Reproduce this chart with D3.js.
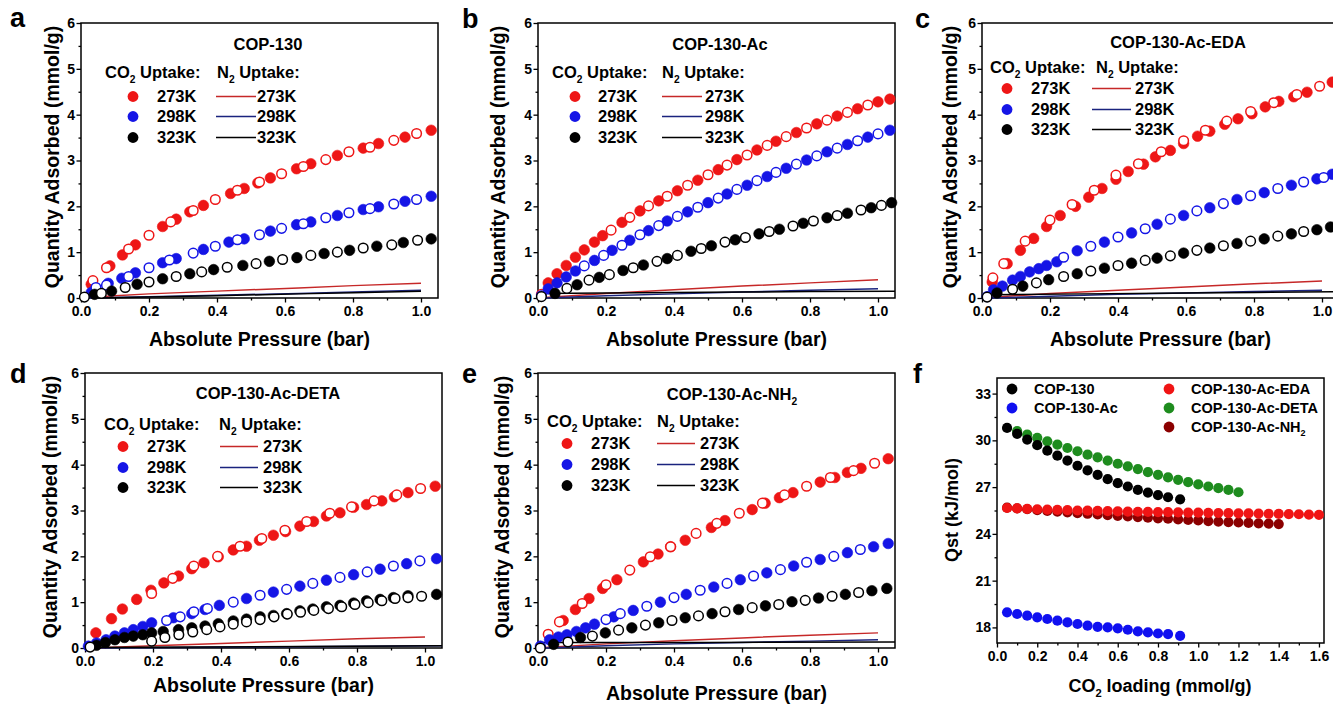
<!DOCTYPE html>
<html>
<head>
<meta charset="utf-8">
<script src="https://cdn.jsdelivr.net/npm/d3@7"></script>
<style>
  body { margin: 0; background: #fff; }
  svg { font-family: "Liberation Sans", Arial, sans-serif; font-weight: bold; }
</style>
</head>
<body>
<svg id="fig" width="1333" height="704"></svg>
<script>
// ---- data ----
const tempLabels = ["273K", "298K", "323K"];

// a: COP-130
const aAds273 = [[0.03,0.30],[0.085,0.70],[0.122,0.94],[0.16,1.16],[0.24,1.56],[0.28,1.72],[0.32,1.88],[0.36,2.02],[0.44,2.28],[0.48,2.39],[0.52,2.51],[0.557,2.62],[0.634,2.82],[0.676,2.93],[0.754,3.11],[0.83,3.27],[0.875,3.37],[0.953,3.51],[1.03,3.66]];
const aDes273 = [[0.035,0.38],[0.075,0.66],[0.14,1.07],[0.2,1.37],[0.264,1.66],[0.33,1.91],[0.395,2.15],[0.46,2.35],[0.525,2.53],[0.59,2.71],[0.654,2.87],[0.72,3.02],[0.788,3.19],[0.85,3.29],[0.92,3.44],[0.987,3.59]];
const aAds298 = [[0.03,0.12],[0.08,0.32],[0.12,0.43],[0.16,0.55],[0.24,0.77],[0.28,0.86],[0.36,1.06],[0.435,1.22],[0.48,1.29],[0.557,1.46],[0.634,1.6],[0.676,1.66],[0.754,1.8],[0.83,1.93],[0.875,1.99],[0.953,2.11],[1.03,2.22]];
const aDes298 = [[0.044,0.23],[0.075,0.28],[0.14,0.47],[0.2,0.66],[0.26,0.83],[0.33,0.98],[0.395,1.13],[0.46,1.27],[0.525,1.38],[0.59,1.52],[0.654,1.62],[0.72,1.75],[0.788,1.86],[0.85,1.95],[0.92,2.05],[0.987,2.15]];
const aAds323 = [[0.04,0.08],[0.09,0.15],[0.165,0.3],[0.24,0.42],[0.32,0.53],[0.39,0.62],[0.476,0.71],[0.554,0.8],[0.635,0.88],[0.715,0.97],[0.79,1.04],[0.87,1.13],[0.948,1.21],[1.03,1.29]];
const aDes323 = [[0.01,0.02],[0.06,0.1],[0.13,0.23],[0.2,0.35],[0.28,0.47],[0.355,0.57],[0.43,0.67],[0.515,0.75],[0.593,0.84],[0.676,0.93],[0.754,1.0],[0.83,1.09],[0.914,1.16],[0.99,1.26]];
const aN2_273 = [[0.02,0.01],[0.1,0.05],[0.2,0.09],[0.4,0.15],[0.64,0.22],[0.8,0.27],[1.0,0.32]];
const aN2_298 = [[0.02,0.0],[0.2,0.03],[0.4,0.06],[0.64,0.1],[0.8,0.13],[1.0,0.17]];
const aN2_323 = [[0.05,0.0],[0.2,0.02],[0.4,0.05],[0.64,0.09],[0.8,0.115],[1.0,0.145]];

// b: COP-130-Ac
const bAds273 = [[0.03,0.33],[0.056,0.53],[0.083,0.71],[0.11,0.89],[0.136,1.05],[0.166,1.22],[0.19,1.36],[0.247,1.65],[0.3,1.9],[0.355,2.12],[0.41,2.34],[0.47,2.57],[0.53,2.8],[0.585,3.02],[0.644,3.23],[0.70,3.42],[0.76,3.61],[0.82,3.8],[0.88,3.97],[0.94,4.13],[1.0,4.28],[1.035,4.34]];
const bDes273 = [[0.01,0.08],[0.215,1.48],[0.27,1.76],[0.325,2.01],[0.38,2.22],[0.44,2.46],[0.5,2.69],[0.556,2.9],[0.615,3.12],[0.674,3.33],[0.73,3.52],[0.79,3.71],[0.85,3.88],[0.91,4.05],[0.97,4.21]];
const bAds298 = [[0.03,0.2],[0.056,0.33],[0.083,0.46],[0.11,0.59],[0.166,0.82],[0.218,1.04],[0.27,1.26],[0.325,1.47],[0.38,1.68],[0.44,1.88],[0.5,2.08],[0.556,2.27],[0.615,2.46],[0.674,2.65],[0.73,2.83],[0.79,3.01],[0.85,3.19],[0.91,3.35],[0.97,3.51],[1.035,3.66]];
const bDes298 = [[0.01,0.05],[0.136,0.7],[0.193,0.93],[0.247,1.15],[0.3,1.38],[0.355,1.58],[0.41,1.78],[0.47,1.98],[0.53,2.18],[0.585,2.37],[0.644,2.56],[0.70,2.74],[0.76,2.92],[0.82,3.1],[0.88,3.27],[0.94,3.43],[1.0,3.58]];
const bAds323 = [[0.05,0.1],[0.115,0.29],[0.18,0.45],[0.25,0.6],[0.31,0.72],[0.38,0.86],[0.45,1.02],[0.51,1.14],[0.58,1.27],[0.65,1.4],[0.71,1.5],[0.78,1.63],[0.85,1.75],[0.91,1.85],[0.98,1.97],[1.04,2.08]];
const bDes323 = [[0.01,0.03],[0.085,0.21],[0.15,0.39],[0.21,0.51],[0.28,0.66],[0.35,0.8],[0.41,0.93],[0.48,1.08],[0.55,1.22],[0.61,1.32],[0.68,1.45],[0.75,1.57],[0.81,1.68],[0.88,1.8],[0.95,1.92],[1.01,2.02]];
const bN2_273 = [[0.02,0.01],[0.2,0.1],[0.4,0.18],[0.6,0.26],[0.8,0.33],[1.0,0.4]];
const bN2_298 = [[0.02,0.0],[0.2,0.05],[0.4,0.09],[0.6,0.13],[0.8,0.17],[1.0,0.2]];
const bN2_323 = [[0.0,0.1],[0.2,0.11],[0.4,0.12],[0.6,0.13],[0.8,0.14],[1.05,0.15]];

// c: COP-130-Ac-EDA
const cAds273 = [[0.03,0.35],[0.074,0.75],[0.113,1.04],[0.152,1.3],[0.19,1.56],[0.23,1.8],[0.275,2.0],[0.314,2.2],[0.353,2.39],[0.394,2.59],[0.43,2.76],[0.475,2.92],[0.51,3.08],[0.554,3.22],[0.593,3.37],[0.634,3.53],[0.67,3.64],[0.714,3.79],[0.753,3.91],[0.794,4.02],[0.833,4.17],[0.873,4.29],[0.917,4.39],[0.956,4.49],[1.03,4.71]];
const cDes273 = [[0.032,0.44],[0.064,0.75],[0.127,1.24],[0.2,1.7],[0.265,2.04],[0.33,2.35],[0.394,2.68],[0.46,2.93],[0.527,3.19],[0.593,3.43],[0.657,3.66],[0.72,3.86],[0.79,4.07],[0.858,4.26],[0.926,4.44],[0.993,4.62]];
const cAds298 = [[0.034,0.18],[0.06,0.26],[0.09,0.39],[0.113,0.47],[0.14,0.57],[0.167,0.64],[0.19,0.71],[0.22,0.79],[0.28,1.03],[0.36,1.22],[0.44,1.42],[0.515,1.61],[0.593,1.8],[0.67,1.97],[0.75,2.15],[0.83,2.3],[0.91,2.46],[0.985,2.6],[1.03,2.7]];
const cDes298 = [[0.015,0.03],[0.24,0.89],[0.32,1.13],[0.4,1.33],[0.48,1.51],[0.554,1.72],[0.632,1.9],[0.71,2.06],[0.79,2.23],[0.87,2.39],[0.946,2.53],[1.005,2.63]];
const cAds323 = [[0.044,0.11],[0.12,0.26],[0.196,0.4],[0.28,0.53],[0.36,0.65],[0.44,0.76],[0.515,0.87],[0.593,0.98],[0.67,1.09],[0.75,1.19],[0.83,1.29],[0.91,1.4],[0.985,1.49],[1.025,1.55]];
const cDes323 = [[0.015,0.02],[0.09,0.19],[0.16,0.33],[0.24,0.47],[0.32,0.59],[0.4,0.71],[0.48,0.82],[0.554,0.92],[0.632,1.04],[0.71,1.14],[0.79,1.24],[0.87,1.35],[0.946,1.45]];
const cN2_273 = [[0.02,0.01],[0.2,0.1],[0.4,0.17],[0.6,0.24],[0.8,0.31],[1.0,0.37]];
const cN2_298 = [[0.02,0.0],[0.2,0.04],[0.4,0.08],[0.6,0.11],[0.8,0.14],[1.0,0.17]];
const cN2_323 = [[0.0,0.07],[0.3,0.09],[0.6,0.11],[0.8,0.12],[1.05,0.14]];

// d: COP-130-Ac-DETA
const dAds273 = [[0.032,0.33],[0.078,0.64],[0.11,0.85],[0.152,1.06],[0.194,1.26],[0.232,1.42],[0.275,1.57],[0.314,1.73],[0.35,1.86],[0.392,1.99],[0.436,2.14],[0.475,2.22],[0.513,2.35],[0.554,2.46],[0.59,2.54],[0.632,2.66],[0.672,2.76],[0.71,2.88],[0.75,2.95],[0.79,3.07],[0.828,3.13],[0.873,3.21],[0.91,3.3],[0.95,3.39],[1.03,3.53]];
const dDes273 = [[0.196,1.19],[0.258,1.52],[0.32,1.79],[0.39,2.0],[0.456,2.22],[0.52,2.39],[0.588,2.57],[0.652,2.76],[0.72,2.94],[0.784,3.08],[0.85,3.21],[0.917,3.34],[0.987,3.48]];
const dAds298 = [[0.01,0.04],[0.034,0.11],[0.062,0.18],[0.088,0.26],[0.116,0.33],[0.142,0.4],[0.17,0.47],[0.196,0.55],[0.26,0.66],[0.314,0.75],[0.353,0.84],[0.395,0.93],[0.475,1.08],[0.554,1.22],[0.632,1.35],[0.71,1.48],[0.79,1.6],[0.868,1.72],[0.946,1.84],[1.034,1.95]];
const dDes298 = [[0.24,0.6],[0.28,0.68],[0.32,0.79],[0.36,0.86],[0.436,1.0],[0.515,1.15],[0.593,1.28],[0.67,1.41],[0.75,1.54],[0.83,1.66],[0.907,1.79],[0.985,1.9]];
const dAds323 = [[0.034,0.06],[0.06,0.12],[0.088,0.18],[0.116,0.23],[0.142,0.26],[0.17,0.29],[0.196,0.33],[0.23,0.36],[0.275,0.4],[0.314,0.44],[0.353,0.48],[0.392,0.53],[0.436,0.59],[0.475,0.63],[0.515,0.68],[0.554,0.71],[0.593,0.75],[0.632,0.81],[0.67,0.85],[0.71,0.9],[0.75,0.93],[0.79,0.98],[0.828,1.03],[0.868,1.06],[0.907,1.1],[0.95,1.14],[1.034,1.17]];
const dDes323 = [[0.015,0.02],[0.196,0.15],[0.235,0.23],[0.276,0.29],[0.317,0.35],[0.358,0.4],[0.397,0.46],[0.436,0.52],[0.475,0.57],[0.515,0.62],[0.556,0.68],[0.595,0.74],[0.634,0.78],[0.673,0.82],[0.716,0.86],[0.755,0.9],[0.794,0.95],[0.833,0.99],[0.873,1.03],[0.912,1.08],[0.95,1.1],[0.99,1.13]];
const dN2_273 = [[0.02,0.0],[0.2,0.05],[0.4,0.1],[0.6,0.15],[0.8,0.2],[1.0,0.24]];
const dN2_298 = [[0.02,0.0],[0.5,0.02],[1.05,0.05]];
const dN2_323 = [[0.0,0.01],[0.5,0.03],[1.05,0.05]];

// e: COP-130-Ac-NH2
const eAds273 = [[0.074,0.6],[0.11,0.84],[0.15,1.08],[0.19,1.3],[0.232,1.49],[0.31,1.88],[0.353,2.05],[0.39,2.21],[0.433,2.35],[0.51,2.63],[0.55,2.78],[0.63,3.02],[0.668,3.16],[0.71,3.28],[0.75,3.39],[0.83,3.62],[0.873,3.72],[0.91,3.83],[0.95,3.92],[1.03,4.13]];
const eDes273 = [[0.03,0.3],[0.063,0.57],[0.13,0.97],[0.2,1.38],[0.27,1.7],[0.33,1.99],[0.39,2.21],[0.465,2.5],[0.526,2.72],[0.592,2.94],[0.66,3.16],[0.725,3.34],[0.79,3.53],[0.86,3.72],[0.928,3.87],[0.99,4.03]];
const eAds298 = [[0.007,0.04],[0.034,0.18],[0.06,0.24],[0.085,0.29],[0.113,0.36],[0.14,0.44],[0.166,0.52],[0.223,0.68],[0.28,0.82],[0.36,1.0],[0.436,1.17],[0.517,1.33],[0.595,1.49],[0.673,1.64],[0.752,1.79],[0.83,1.93],[0.91,2.08],[0.987,2.21],[1.03,2.28]];
const eDes298 = [[0.2,0.62],[0.242,0.75],[0.32,0.91],[0.4,1.1],[0.477,1.26],[0.556,1.41],[0.634,1.57],[0.713,1.71],[0.79,1.87],[0.87,2.0],[0.948,2.15]];
const eAds323 = [[0.046,0.08],[0.125,0.23],[0.198,0.33],[0.276,0.44],[0.355,0.55],[0.433,0.66],[0.512,0.75],[0.59,0.84],[0.669,0.92],[0.747,1.01],[0.825,1.09],[0.904,1.17],[0.982,1.25],[1.026,1.3]];
const eDes323 = [[0.007,0.0],[0.088,0.13],[0.16,0.26],[0.237,0.39],[0.316,0.5],[0.394,0.6],[0.472,0.7],[0.55,0.79],[0.63,0.88],[0.708,0.95],[0.786,1.04],[0.865,1.13],[0.943,1.21]];
const eN2_273 = [[0.02,0.01],[0.2,0.09],[0.4,0.16],[0.6,0.22],[0.8,0.28],[1.0,0.33]];
const eN2_298 = [[0.02,0.0],[0.2,0.05],[0.4,0.09],[0.6,0.12],[0.8,0.15],[1.0,0.18]];
const eN2_323 = [[0.0,0.12],[0.5,0.12],[1.05,0.13]];

// f: isosteric heat
const qstNames = ["COP-130", "COP-130-Ac", "COP-130-Ac-EDA", "COP-130-Ac-DETA", "COP-130-Ac-NH2"];
const qstCop130 = [[0.05,30.8],[0.1,30.42],[0.15,30.05],[0.2,29.69],[0.25,29.34],[0.3,29.02],[0.35,28.7],[0.4,28.37],[0.45,28.07],[0.5,27.79],[0.55,27.51],[0.6,27.25],[0.65,27.04],[0.7,26.82],[0.75,26.65],[0.8,26.48],[0.85,26.35],[0.91,26.22]];
const qstAc = [[0.05,18.97],[0.1,18.86],[0.15,18.75],[0.2,18.65],[0.25,18.54],[0.3,18.43],[0.35,18.32],[0.4,18.22],[0.45,18.11],[0.5,18.04],[0.55,18.0],[0.6,17.94],[0.65,17.85],[0.7,17.74],[0.75,17.68],[0.8,17.61],[0.85,17.57],[0.91,17.46]];
const qstEda = [[0.05,25.66],[0.1,25.63],[0.15,25.61],[0.2,25.58],[0.25,25.56],[0.3,25.54],[0.35,25.52],[0.4,25.5],[0.45,25.49],[0.5,25.47],[0.55,25.46],[0.6,25.44],[0.65,25.43],[0.7,25.42],[0.75,25.41],[0.8,25.4],[0.85,25.39],[0.9,25.38],[0.95,25.37],[1.0,25.36],[1.05,25.35],[1.1,25.34],[1.15,25.33],[1.2,25.32],[1.25,25.31],[1.3,25.3],[1.35,25.29],[1.4,25.28],[1.45,25.27],[1.5,25.26],[1.55,25.24],[1.6,25.22]];
const qstDeta = [[0.1,30.6],[0.15,30.37],[0.2,30.16],[0.25,29.94],[0.3,29.73],[0.35,29.51],[0.4,29.3],[0.45,29.08],[0.5,28.91],[0.55,28.7],[0.6,28.5],[0.65,28.33],[0.7,28.16],[0.75,27.96],[0.8,27.79],[0.85,27.62],[0.9,27.47],[0.95,27.32],[1.0,27.17],[1.05,27.04],[1.1,26.93],[1.15,26.82],[1.2,26.67]];
const qstNh2 = [[0.05,25.68],[0.1,25.63],[0.15,25.58],[0.2,25.52],[0.25,25.47],[0.3,25.43],[0.35,25.38],[0.4,25.33],[0.45,25.29],[0.5,25.25],[0.55,25.2],[0.6,25.16],[0.65,25.12],[0.7,25.08],[0.75,25.04],[0.8,25.0],[0.85,24.97],[0.9,24.93],[0.95,24.89],[1.0,24.86],[1.05,24.82],[1.1,24.79],[1.15,24.76],[1.2,24.73],[1.25,24.7],[1.3,24.68],[1.35,24.66],[1.4,24.63]];

const xTicksP = [0, 0.2, 0.4, 0.6, 0.8, 1.0];
const yTicksQ = [0, 1, 2, 3, 4, 5, 6];
const xTicksF = [0, 0.2, 0.4, 0.6, 0.8, 1.0, 1.2, 1.4, 1.6];
const yTicksF = [18, 21, 24, 27, 30, 33];

// ---- drawing ----
const svg = d3.select("#fig");
const FONT = '"Liberation Sans", Arial, sans-serif';
const cRed = "#ee1616", cBlue = "#1515e6", cBlack = "#000";
const lRed = "#c62828", lBlue = "#1a237e";
const tempColors = [cRed, cBlue, cBlack];
const lineColors = [lRed, lBlue, cBlack];

// text with subscripts: parts are strings or {sub: "2"}
function richText(x, y, parts, size, anchor) {
  const t = svg.append("text").attr("x", x).attr("y", y)
    .attr("font-size", size).attr("text-anchor", anchor || "start");
  let down = false;
  parts.forEach(p => {
    const isSub = typeof p !== "string";
    const s = t.append("tspan").text(isSub ? p.sub : p);
    if (isSub) s.attr("font-size", size * 0.62).attr("dy", size * 0.28);
    else if (down) s.attr("dy", -size * 0.28);
    down = isSub;
  });
  return t;
}

function axes(x, y, xMaj, xMin, yMaj, yMin, fx, fy) {
  const [l, r] = x.range(), [b, t] = y.range();
  const g = svg.append("g");
  g.append("g").attr("transform", `translate(0,${b})`)
    .call(d3.axisBottom(x).tickValues(xMin).tickSize(2.5).tickFormat(""));
  g.append("g").attr("transform", `translate(0,${b})`)
    .call(d3.axisBottom(x).tickValues(xMaj).tickSize(4.5).tickPadding(4).tickFormat(fx));
  g.append("g").attr("transform", `translate(${l},0)`)
    .call(d3.axisLeft(y).tickValues(yMin).tickSize(2.5).tickFormat(""));
  g.append("g").attr("transform", `translate(${l},0)`)
    .call(d3.axisLeft(y).tickValues(yMaj).tickSize(4.5).tickPadding(1.5).tickFormat(fy));
  g.selectAll(".domain").remove();
  g.selectAll("text").attr("font-size", 14).attr("font-family", FONT)
    .attr("font-weight", "bold").attr("fill", "#000");
  g.selectAll("line").attr("stroke", "#000").attr("stroke-width", 1.3);
  g.append("rect").attr("x", l).attr("y", t).attr("width", r - l).attr("height", b - t)
    .attr("fill", "none").attr("stroke", "#000").attr("stroke-width", 1.5);
}

function dots(x, y, data, color, open, r) {
  svg.append("g").selectAll("circle").data(data).join("circle")
    .attr("cx", d => x(d[0])).attr("cy", d => y(d[1])).attr("r", r)
    .attr("fill", open ? "#fff" : color)
    .attr("stroke", color).attr("stroke-width", open ? 1.5 : 0.6);
}

function isoPanel(P) {
  const x = d3.scaleLinear().domain([0, 1.05]).range([P.x0, P.x0 + 1.05 * 340]);
  const y = d3.scaleLinear().domain([0, 6]).range([P.yb, P.yb - 275]);
  axes(x, y, xTicksP, [0.1, 0.3, 0.5, 0.7, 0.9], yTicksQ, [0.5, 1.5, 2.5, 3.5, 4.5, 5.5],
       d3.format(".1f"), d3.format("d"));

  const line = d3.line().x(d => x(d[0])).y(d => y(d[1]));
  P.n2.forEach((s, i) => {
    svg.append("path").attr("d", line(s)).attr("fill", "none")
      .attr("stroke", lineColors[i]).attr("stroke-width", 1.5);
  });
  P.ads.forEach((s, i) => {
    dots(x, y, s, tempColors[i], false, 5.3);
    dots(x, y, P.des[i], tempColors[i], true, 4.8);
  });

  // labels
  svg.append("text").attr("x", P.letter[0]).attr("y", P.letter[1])
    .attr("font-size", 27).text(P.tag);
  richText((x.range()[0] + x.range()[1]) / 2, P.xtY, ["Absolute Pressure (bar)"], 19.5, "middle");
  svg.append("text").attr("transform", `translate(${P.ytX},${P.yb - 141}) rotate(-90)`)
    .attr("text-anchor", "middle").attr("dy", "0.35em").attr("font-size", 19.5)
    .text("Quantity Adsorbed (mmol/g)");

  // legend
  const L = P.leg;
  richText(L.title[0], L.title[1], P.title, 16.5, "middle");
  richText(L.co2, L.head, ["CO", {sub: "2"}, " Uptake:"], 16.5);
  richText(L.n2, L.head, ["N", {sub: "2"}, " Uptake:"], 16.5);
  L.rows.forEach((ry, i) => {
    svg.append("circle").attr("cx", L.mk).attr("cy", ry - 5.5).attr("r", 5.4)
      .attr("fill", tempColors[i]);
    svg.append("text").attr("x", L.t1).attr("y", ry).attr("font-size", 16.5).text(tempLabels[i]);
    svg.append("line").attr("x1", L.line[0]).attr("x2", L.line[1])
      .attr("y1", ry - 5.5).attr("y2", ry - 5.5)
      .attr("stroke", lineColors[i]).attr("stroke-width", 1.6);
    svg.append("text").attr("x", L.t2).attr("y", ry).attr("font-size", 16.5).text(tempLabels[i]);
  });
}

isoPanel({
  tag: "a", letter: [10, 27], x0: 81, yb: 298, xtY: 346, ytX: 52,
  title: ["COP-130"],
  n2: [aN2_273, aN2_298, aN2_323],
  ads: [aAds273, aAds298, aAds323], des: [aDes273, aDes298, aDes323],
  leg: {title: [268, 50], co2: 105, n2: 217, head: 78, rows: [102, 122, 143],
        mk: 133, t1: 157, line: [216, 256], t2: 257}
});
isoPanel({
  tag: "b", letter: [462, 28], x0: 538, yb: 298, xtY: 346, ytX: 498,
  title: ["COP-130-Ac"],
  n2: [bN2_273, bN2_298, bN2_323],
  ads: [bAds273, bAds298, bAds323], des: [bDes273, bDes298, bDes323],
  leg: {title: [720, 50], co2: 552, n2: 662, head: 78, rows: [102, 122, 143],
        mk: 575, t1: 598, line: [662, 702], t2: 705}
});
isoPanel({
  tag: "c", letter: [915, 28], x0: 982, yb: 298, xtY: 346, ytX: 950,
  title: ["COP-130-Ac-EDA"],
  n2: [cN2_273, cN2_298, cN2_323],
  ads: [cAds273, cAds298, cAds323], des: [cDes273, cDes298, cDes323],
  leg: {title: [1178, 48], co2: 990, n2: 1096, head: 73, rows: [94, 115, 135],
        mk: 1007, t1: 1031, line: [1092, 1131], t2: 1135}
});
isoPanel({
  tag: "d", letter: [10, 383], x0: 85, yb: 648, xtY: 692, ytX: 50,
  title: ["COP-130-Ac-DETA"],
  n2: [dN2_273, dN2_298, dN2_323],
  ads: [dAds273, dAds298, dAds323], des: [dDes273, dDes298, dDes323],
  leg: {title: [268, 399], co2: 104, n2: 219, head: 430, rows: [452, 473, 493],
        mk: 123, t1: 147, line: [220, 258], t2: 263}
});
isoPanel({
  tag: "e", letter: [462, 383], x0: 538, yb: 648, xtY: 700, ytX: 502,
  title: ["COP-130-Ac-NH", {sub: "2"}],
  n2: [eN2_273, eN2_298, eN2_323],
  ads: [eAds273, eAds298, eAds323], des: [eDes273, eDes298, eDes323],
  leg: {title: [732, 400], co2: 547, n2: 657, head: 427, rows: [449, 470, 491],
        mk: 567, t1: 591, line: [657, 695], t2: 700}
});

// ---- panel f ----
(function () {
  const x = d3.scaleLinear().domain([0, 1.625]).range([997, 1324]);
  const y = d3.scaleLinear().domain([17, 34]).range([643, 378]);
  axes(x, y, xTicksF, [0.1, 0.3, 0.5, 0.7, 0.9, 1.1, 1.3, 1.5], yTicksF,
       [19.5, 22.5, 25.5, 28.5, 31.5], d3.format(".1f"), d3.format("d"));
  const colors = [cBlack, "#1010f0", "#f01414", "#1e8c1e", "#8b0000"];
  const series = [qstCop130, qstAc, qstEda, qstDeta, qstNh2];
  // later legend entries sit underneath
  [4, 3, 2, 1, 0].forEach(i => {
    svg.append("g").selectAll("circle").data(series[i]).join("circle")
      .attr("cx", d => x(d[0])).attr("cy", d => y(d[1])).attr("r", 5.1)
      .attr("fill", colors[i]);
  });
  const legPos = [[1012, 389], [1012, 408], [1169, 389], [1169, 408], [1169, 427]];
  qstNames.forEach((n, i) => {
    const [mx, my] = legPos[i];
    svg.append("circle").attr("cx", mx).attr("cy", my).attr("r", 5.4).attr("fill", colors[i]);
    const parts = n.endsWith("NH2") ? [n.slice(0, -1), {sub: "2"}] : [n];
    richText(mx + 22, my + 5.2, parts, 14.5);
  });
  svg.append("text").attr("x", 913).attr("y", 383).attr("font-size", 27).text("f");
  richText(1160, 692, ["CO", {sub: "2"}, " loading (mmol/g)"], 18, "middle");
  svg.append("text").attr("transform", "translate(952,510) rotate(-90)")
    .attr("text-anchor", "middle").attr("dy", "0.35em").attr("font-size", 18)
    .text("Qst (kJ/mol)");
})();
</script>
</body>
</html>
